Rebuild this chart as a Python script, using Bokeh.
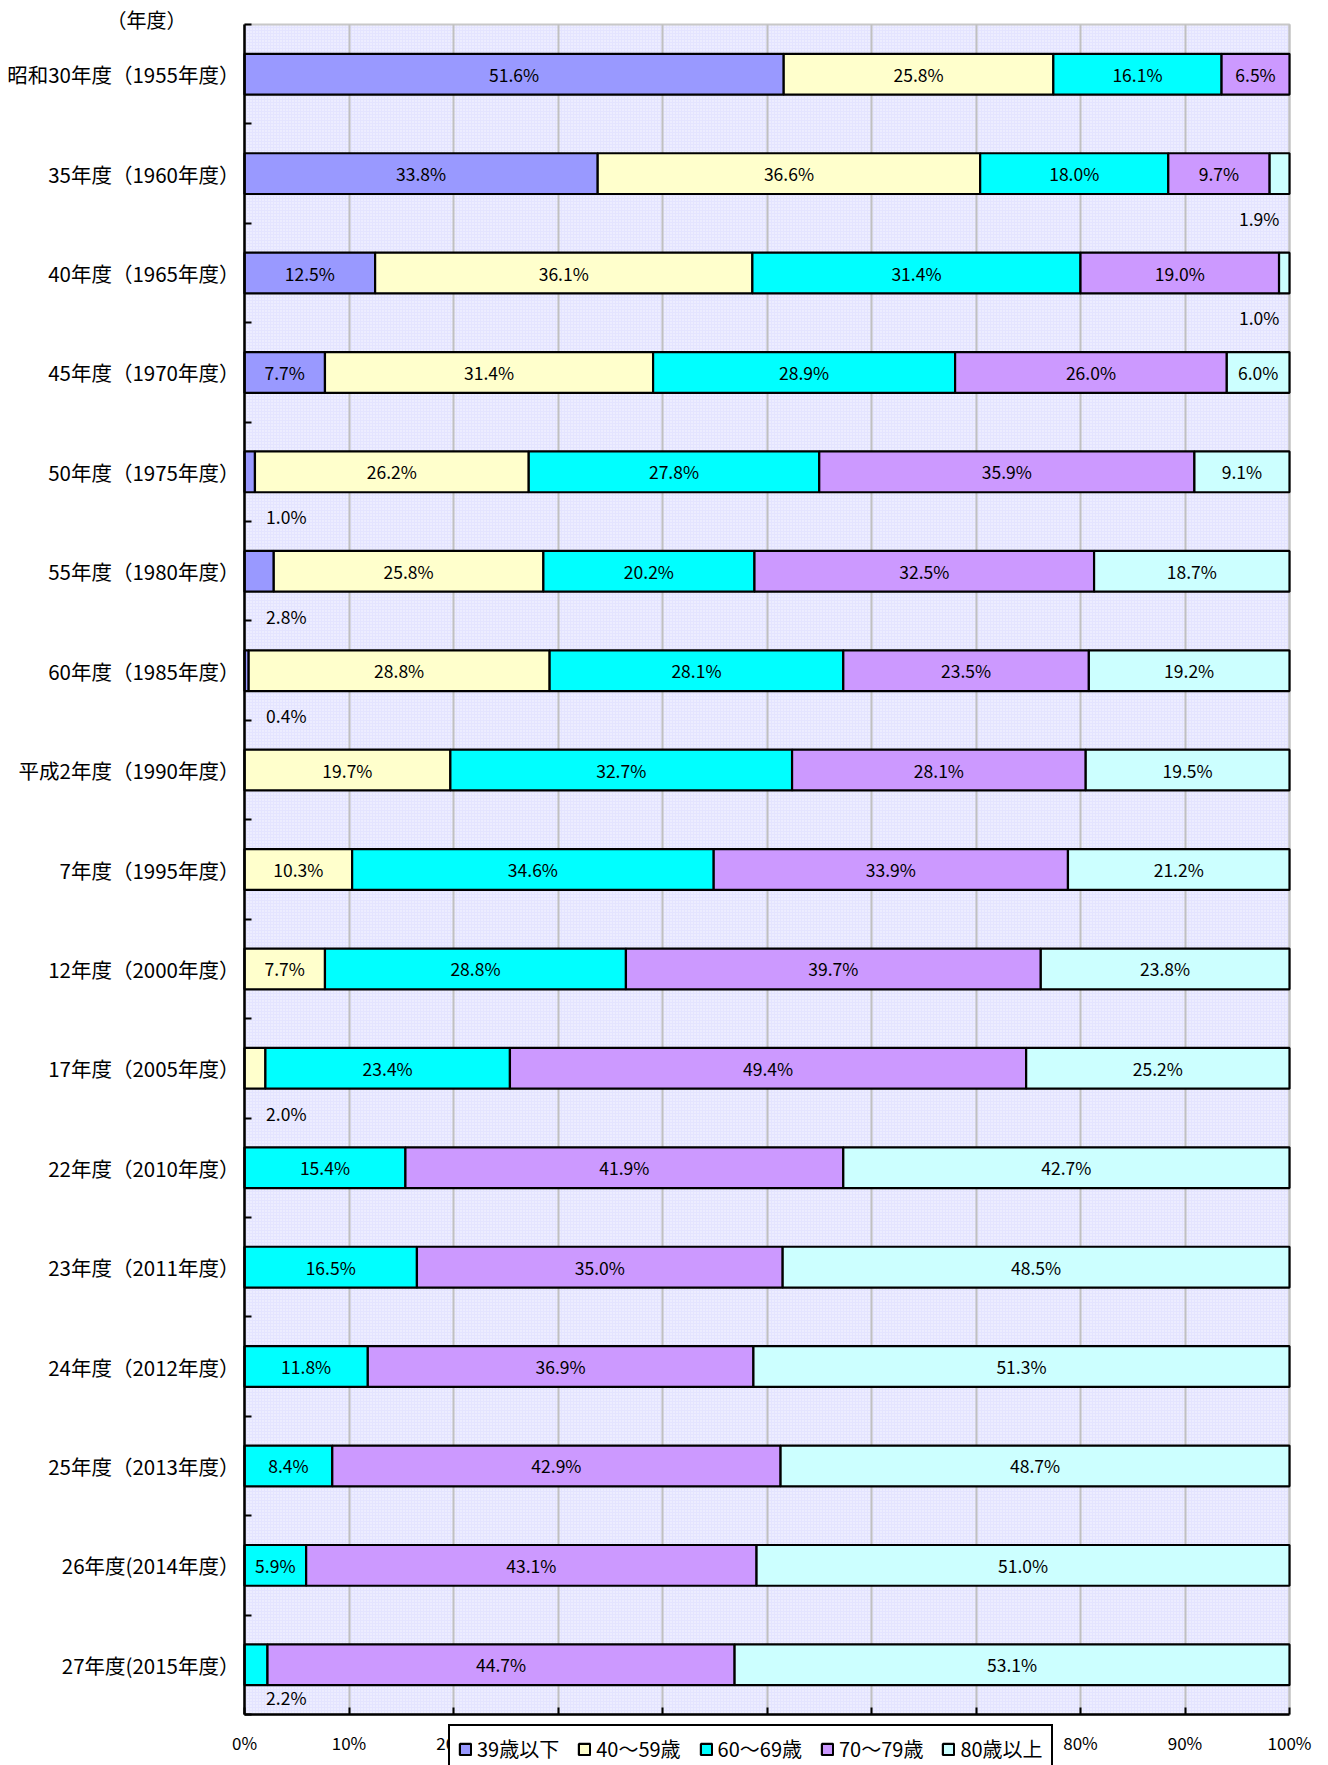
from bokeh.plotting import figure
from bokeh.models import (ColumnDataSource, Range1d, FixedTicker, Legend, LegendItem,
                          Label, BoxAnnotation)
from bokeh.embed import file_html
from bokeh.resources import INLINE
from bokeh.core.properties import value

FONT = "Noto Sans CJK JP"

# ---------------- data ----------------
year_labels = [
    "昭和30年度（1955年度）", "35年度（1960年度）", "40年度（1965年度）", "45年度（1970年度）",
    "50年度（1975年度）", "55年度（1980年度）", "60年度（1985年度）", "平成2年度（1990年度）",
    "7年度（1995年度）", "12年度（2000年度）", "17年度（2005年度）", "22年度（2010年度）",
    "23年度（2011年度）", "24年度（2012年度）", "25年度（2013年度）", "26年度(2014年度）",
    "27年度(2015年度）",
]
series_names = ["39歳以下", "40～59歳", "60～69歳", "70～79歳", "80歳以上"]
under39 = [51.6, 33.8, 12.5, 7.7, 1.0, 2.8, 0.4, 0, 0, 0, 0, 0, 0, 0, 0, 0, 0]
age40_59 = [25.8, 36.6, 36.1, 31.4, 26.2, 25.8, 28.8, 19.7, 10.3, 7.7, 2.0, 0, 0, 0, 0, 0, 0]
age60_69 = [16.1, 18.0, 31.4, 28.9, 27.8, 20.2, 28.1, 32.7, 34.6, 28.8, 23.4, 15.4, 16.5, 11.8, 8.4, 5.9, 2.2]
age70_79 = [6.5, 9.7, 19.0, 26.0, 35.9, 32.5, 23.5, 28.1, 33.9, 39.7, 49.4, 41.9, 35.0, 36.9, 42.9, 43.1, 44.7]
over80 = [0, 1.9, 1.0, 6.0, 9.1, 18.7, 19.2, 19.5, 21.2, 23.8, 25.2, 42.7, 48.5, 51.3, 48.7, 51.0, 53.1]
x_ticks = [0, 10, 20, 30, 40, 50, 60, 70, 80, 90, 100]

series = [under39, age40_59, age60_69, age70_79, over80]
colors = ["#9999FF", "#FFFFCC", "#00FFFF", "#CC99FF", "#CCFFFF"]

n = len(year_labels)

# ---------------- layout (pixels) ----------------
W, H = 1328, 1765
PLOT_L, PLOT_R, PLOT_T, PLOT_B = 244, 1289, 24, 1714
px_x = (PLOT_R - PLOT_L) / 100.0          # pixels per percent
px_y = (PLOT_B - PLOT_T) / float(n)       # pixels per category

x_range = Range1d(-PLOT_L / px_x, (W - PLOT_L) / px_x)
y_range = Range1d(n - 0.5 + (H - PLOT_B) / px_y, -0.5 - PLOT_T / px_y)

p = figure(width=W, height=H, x_range=x_range, y_range=y_range,
           output_backend="svg", toolbar_location=None,
           min_border_left=0, min_border_right=0, min_border_top=0, min_border_bottom=0)
p.background_fill_color = "white"
p.border_fill_color = "white"
p.outline_line_color = None

# patterned plot-area background with grey border
bg = BoxAnnotation(left=0, right=100, top=-0.5, bottom=n - 0.5,
                   fill_color="#E4E4FF", fill_alpha=1,
                   line_color="#C8C8C8", line_width=2, line_alpha=1, level="image",
                   hatch_pattern=".", hatch_color="white", hatch_alpha=0.8,
                   hatch_scale=3, hatch_weight=1)
p.add_layout(bg)

# grid
p.ygrid.visible = False
p.xgrid.ticker = FixedTicker(ticks=x_ticks)
p.xgrid.grid_line_color = "#C0C0C0"
p.xgrid.grid_line_width = 2
if "cross_bounds" in p.xgrid[0].properties():
    p.xgrid.cross_bounds = (-0.5, n - 0.5)
else:
    p.xgrid.visible = False
    p.segment(x0=x_ticks, x1=x_ticks, y0=[-0.5] * len(x_ticks), y1=[n - 0.5] * len(x_ticks),
              line_color="#C0C0C0", line_width=2, level="underlay")

# x axis, drawn at the bottom edge of the plot area
p.xaxis.fixed_location = n - 0.5
p.xaxis.bounds = (0, 100)
p.xaxis.ticker = FixedTicker(ticks=x_ticks)
p.xaxis.major_label_overrides = {t: f"{t}%" for t in x_ticks}
p.xaxis.major_tick_in = 7
p.xaxis.major_tick_out = 0
p.xaxis.major_tick_line_width = 2
p.xaxis.axis_line_width = 2.5
p.xaxis.major_label_text_font = FONT
p.xaxis.major_label_text_font_size = "17px"
p.xaxis.major_label_text_color = "black"
p.xaxis.major_label_standoff = 15

# y axis, drawn at 0 %
p.yaxis.fixed_location = 0
p.yaxis.bounds = (-0.5, n - 0.5)
p.yaxis.ticker = FixedTicker(ticks=list(range(n)), minor_ticks=[k - 0.5 for k in range(n + 1)])
p.yaxis.major_label_overrides = {i: lab for i, lab in enumerate(year_labels)}
p.yaxis.major_tick_line_color = None
p.yaxis.major_tick_in = 0
p.yaxis.major_tick_out = 0
p.yaxis.minor_tick_in = 7
p.yaxis.minor_tick_out = 0
p.yaxis.minor_tick_line_color = "black"
p.yaxis.minor_tick_line_width = 2
p.yaxis.axis_line_width = 2.5
p.yaxis.major_label_text_font = FONT
p.yaxis.major_label_text_font_size = "20.5px"
p.yaxis.major_label_text_color = "black"
p.yaxis.major_label_standoff = 5

# ---------------- bars ----------------
items = []
cum = [0.0] * n
in_x, in_y, in_t = [], [], []
out_x, out_y, out_t = [], [], []
for name, vals, col in zip(series_names, series, colors):
    ys, lefts, rights = [], [], []
    for i, v in enumerate(vals):
        if v > 0:
            ys.append(i)
            lefts.append(cum[i])
            rights.append(cum[i] + v)
            centre = cum[i] + v / 2
            txt = f"{v:.1f}%"
            if v >= 3:
                in_x.append(centre); in_y.append(i); in_t.append(txt)
            else:
                out_x.append(4.0 if centre < 50 else 97.1)
                out_y.append(min(i + 0.45, n - 1 + 0.33))
                out_t.append(txt)
        cum[i] += v
    src = ColumnDataSource(dict(y=ys, left=lefts, right=rights))
    r = p.hbar(y="y", left="left", right="right", height=0.41, source=src,
               fill_color=col, line_color="black", line_width=2.2)
    items.append(LegendItem(label=name, renderers=[r]))

p.text(x=in_x, y=in_y, text=in_t, text_font=value(FONT), text_font_size=value("17.5px"),
       text_align="center", text_baseline="middle", text_color="black")
p.text(x=out_x, y=out_y, text=out_t, text_font=value(FONT), text_font_size=value("17.5px"),
       text_align="center", text_baseline="middle", text_color="black")

# ---------------- legend ----------------
legend = Legend(items=items, orientation="horizontal", location=(448, -8),
                label_text_font=FONT, label_text_font_size="20px", label_text_color="black",
                glyph_width=14, glyph_height=14, label_standoff=5,
                spacing=18, padding=8, margin=0, level="overlay",
                border_line_color="black", border_line_width=2, border_line_alpha=1,
                background_fill_color="white", background_fill_alpha=1)
p.add_layout(legend)

# ---------------- unit caption ----------------
p.add_layout(Label(x=146, y=H - 19, x_units="screen", y_units="screen", text="（年度）",
                   text_font=FONT, text_font_size="20px", text_align="center",
                   text_baseline="middle", text_color="black"))

open("out.html", "w").write(file_html(p, INLINE))
